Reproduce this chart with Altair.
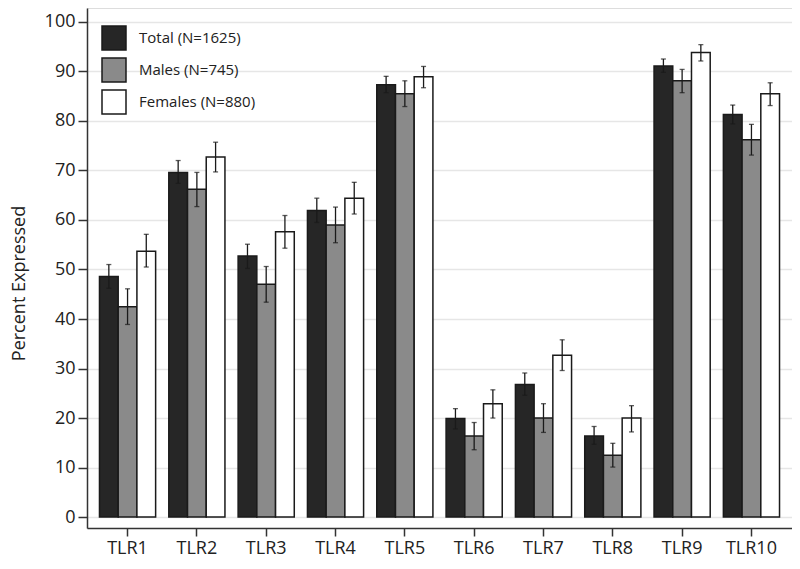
import altair as alt
import pandas as pd

categories = ["TLR1", "TLR2", "TLR3", "TLR4", "TLR5", "TLR6", "TLR7", "TLR8", "TLR9", "TLR10"]
groups = ["Total (N=1625)", "Males (N=745)", "Females (N=880)"]
colors = ["#262626", "#8a8a8a", "#ffffff"]

total = [48.6, 69.6, 52.7, 61.9, 87.3, 19.9, 26.8, 16.4, 91.1, 81.3]
total_lo = [46.2, 67.4, 50.2, 59.5, 85.7, 17.8, 24.6, 14.7, 89.8, 79.4]
total_hi = [51.0, 72.0, 55.1, 64.4, 89.0, 21.9, 29.1, 18.3, 92.5, 83.2]

males = [42.5, 66.2, 47.0, 59.0, 85.5, 16.4, 20.0, 12.5, 88.1, 76.2]
males_lo = [38.9, 62.7, 43.4, 55.4, 82.9, 13.6, 17.1, 10.1, 85.7, 73.1]
males_hi = [46.1, 69.6, 50.6, 62.6, 88.1, 19.1, 22.9, 14.9, 90.4, 79.3]

females = [53.7, 72.7, 57.6, 64.4, 88.9, 22.9, 32.7, 20.0, 93.8, 85.5]
females_lo = [50.5, 69.7, 54.3, 61.2, 86.7, 20.0, 29.6, 17.2, 92.1, 83.1]
females_hi = [57.1, 75.7, 60.9, 67.6, 91.0, 25.7, 35.8, 22.5, 95.4, 87.7]

y_ticks = [0, 10, 20, 30, 40, 50, 60, 70, 80, 90, 100]

rows = []
for g, vals, lo, hi in [
    (groups[0], total, total_lo, total_hi),
    (groups[1], males, males_lo, males_hi),
    (groups[2], females, females_lo, females_hi),
]:
    for c, v, l, h in zip(categories, vals, lo, hi):
        rows.append({"tlr": c, "group": g, "value": v, "lo": l, "hi": h, "zero": 0})
df = pd.DataFrame(rows)

FONT = "Open Sans"

x_enc = alt.X(
    "tlr:N",
    sort=categories,
    scale=alt.Scale(paddingInner=0.19, paddingOuter=0.18),
    axis=alt.Axis(
        title=None,
        labelFontSize=18,
        labelFont=FONT,
        labelColor="#222222",
        labelAngle=0,
        tickSize=8,
        tickWidth=1.5,
        tickColor="#333333",
        domainColor="#333333",
        domainWidth=1.5,
        labelPadding=3,
        grid=False,
    ),
)
xoff = alt.XOffset("group:N", sort=groups, scale=alt.Scale(domain=groups, paddingInner=0, paddingOuter=0))

y_scale = alt.Scale(domain=[-2.2, 102.8], nice=False, zero=False)

base = alt.Chart(df)

bars = base.mark_bar(stroke="#1a1a1a", strokeWidth=1.5).encode(
    x=x_enc,
    xOffset=xoff,
    y=alt.Y(
        "value:Q",
        scale=y_scale,
        axis=alt.Axis(
            title="Percent Expressed",
            titleFont=FONT,
            titleFontSize=18,
            titleFontWeight="normal",
            titleColor="#222222",
            titleX=-59,
            titleY=275,
            values=y_ticks,
            labelFontSize=18,
            labelFont=FONT,
            labelColor="#222222",
            labelPadding=3,
            tickSize=9,
            tickWidth=1.5,
            tickColor="#333333",
            domainColor="#333333",
            domainWidth=1.5,
            grid=True,
            gridColor="#e6e6e6",
            gridWidth=1.5,
        ),
    ),
    y2="zero:Q",
    fill=alt.Fill(
        "group:N",
        sort=groups,
        scale=alt.Scale(domain=groups, range=colors),
        legend=alt.Legend(
            title=None,
            orient="none",
            legendX=14,
            legendY=17,
            symbolType="square",
            symbolSize=576,
            symbolStrokeColor="#1a1a1a",
            symbolStrokeWidth=1.5,
            labelFont=FONT,
            labelFontSize=15,
            labelColor="#222222",
            labelOffset=12,
            rowPadding=2,
            padding=0,
        ),
    ),
)

rules = base.mark_rule(color="#1a1a1a", strokeWidth=1.3).encode(
    x=x_enc, xOffset=xoff, y=alt.Y("lo:Q", scale=y_scale), y2="hi:Q"
)
caps_lo = base.mark_tick(color="#1a1a1a", thickness=1.3, size=5).encode(
    x=x_enc, xOffset=xoff, y=alt.Y("lo:Q", scale=y_scale)
)
caps_hi = base.mark_tick(color="#1a1a1a", thickness=1.3, size=5).encode(
    x=x_enc, xOffset=xoff, y=alt.Y("hi:Q", scale=y_scale)
)

chart = (
    alt.layer(bars, rules, caps_lo, caps_hi)
    .properties(
        width=705,
        height=520,
        autosize=alt.AutoSizeParams(type="none"),
        padding={"left": 79, "top": 0, "right": 0, "bottom": 41},
    )
    .configure_view(stroke=None)
    .configure(background="white")
)

chart.save("out.html", embed_options={"renderer": "svg", "actions": False})
